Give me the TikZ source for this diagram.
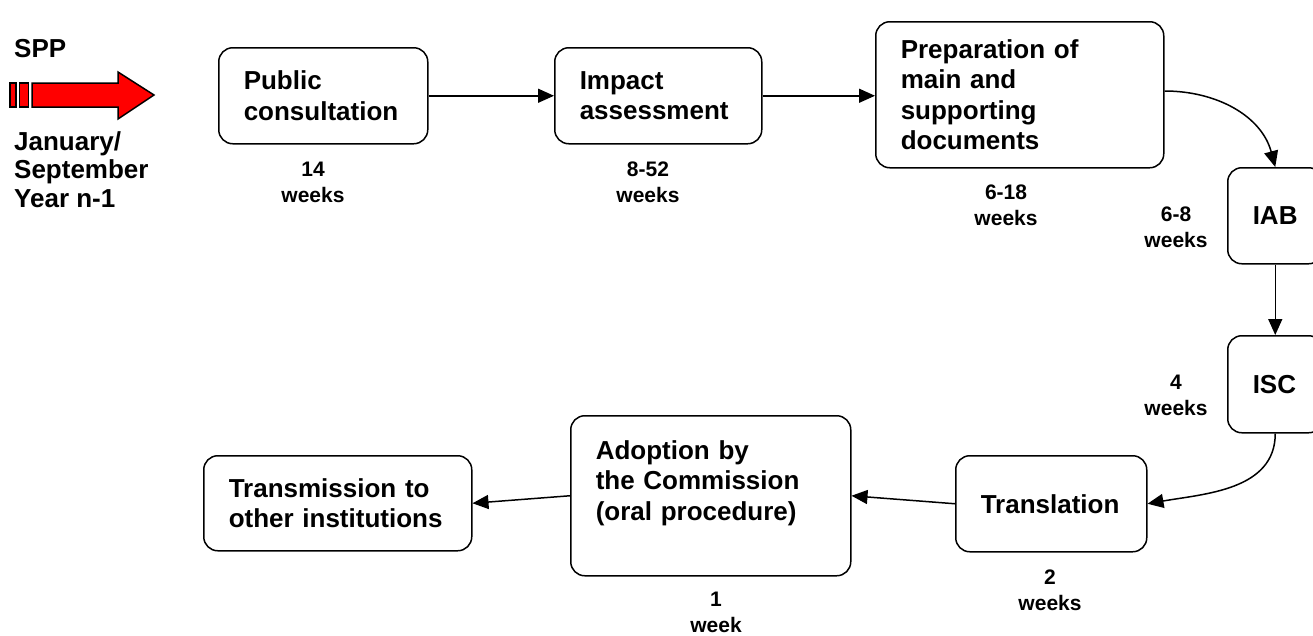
\documentclass[tikz,border=0pt]{standalone}
\usepackage{fontspec}
\setmainfont{Liberation Sans}
\usetikzlibrary{arrows.meta}
\newcommand{\boxfnt}{\fontsize{26}{30.5}\selectfont\bfseries}
\newcommand{\lblfnt}{\fontsize{21}{26}\selectfont\bfseries}
\tikzset{
  box/.style={draw, line width=1.5pt, rounded corners=14pt, fill=white,
    anchor=north west, align=left, inner sep=0pt, font=\boxfnt},
  lbl/.style={align=center, font=\lblfnt, inner sep=0pt},
  side/.style={align=left, font=\boxfnt, inner sep=0pt},
  arr/.style={line width=1.5pt, -{Triangle[length=16pt,width=14pt]}},
  sppshape/.style={draw, line width=1.5pt, fill=red, line join=miter},
}
\begin{document}
\begin{tikzpicture}[x=1pt,y=-1pt]
\useasboundingbox (0,0) rectangle (1313,635);
% boxes
\node[box, minimum width=209, minimum height=96, text width=159] (pc) at (218,47) {Public\\consultation};
\node[box, minimum width=207, minimum height=96, text width=157] (ia) at (554,47) {Impact\\assessment};
\node[box, minimum width=288, minimum height=146, text width=238] (prep) at (875,21) {Preparation of\\main and\\supporting\\documents};
\node[box, minimum width=95, minimum height=96, text width=45] (iab) at (1227,167) {IAB};
\node[box, minimum width=95, minimum height=97, text width=45] (isc) at (1227,335) {ISC};
\node[box, minimum width=191, minimum height=96, text width=141] (tr) at (955,455) {Translation};
\node[box, minimum width=280, minimum height=160, text width=230] (ad) at (570,415) {Adoption by\\the Commission\\(oral procedure)\\~};
\node[box, minimum width=268, minimum height=95, text width=218] (tm) at (203,455) {Transmission to\\other institutions};
% duration labels
\node[lbl] (l1) at (313,182) {14\\weeks};
\node[lbl] (l2) at (648,182) {8-52\\weeks};
\node[lbl] (l3) at (1006,205) {6-18\\weeks};
\node[lbl] (l4) at (1176,227) {6-8\\weeks};
\node[lbl] (l5) at (1176,395) {4\\weeks};
\node[lbl] (l6) at (1050,590) {2\\weeks};
\node[lbl] (l7) at (716,612) {1\\week};
% SPP
\node[side, anchor=base west] (spp) at (14,57) {SPP};
\node[side, anchor=north west, font=\fontsize{26}{28.5}\selectfont\bfseries] (date) at (14,131) {January/\\September\\Year n-1};
\draw[sppshape] (10,83) rectangle (16,107);
\draw[sppshape] (19.5,83) rectangle (28.5,107);
\draw[sppshape] (32,83) -- (118,83) -- (118,72) -- (154,95) -- (118,119) -- (118,107) -- (32,107) -- cycle;
% connectors
\draw[arr] (pc.east) -- (ia.west);
\draw[arr] (ia.east) -- (prep.west |- ia.east);
\coordinate (pstart) at (prep.east |- 0,91);
\draw[arr] (pstart) to[out=0, in=105] (iab.north);
\draw[arr] (iab.south) -- (isc.south |- isc.north);
\draw[arr] (isc.south) to[out=-90, in=10] (tr.east);
\draw[arr] (tr.west) -- (ad.east);
\draw[arr] (ad.west) -- (tm.east);
\end{tikzpicture}
\end{document}
